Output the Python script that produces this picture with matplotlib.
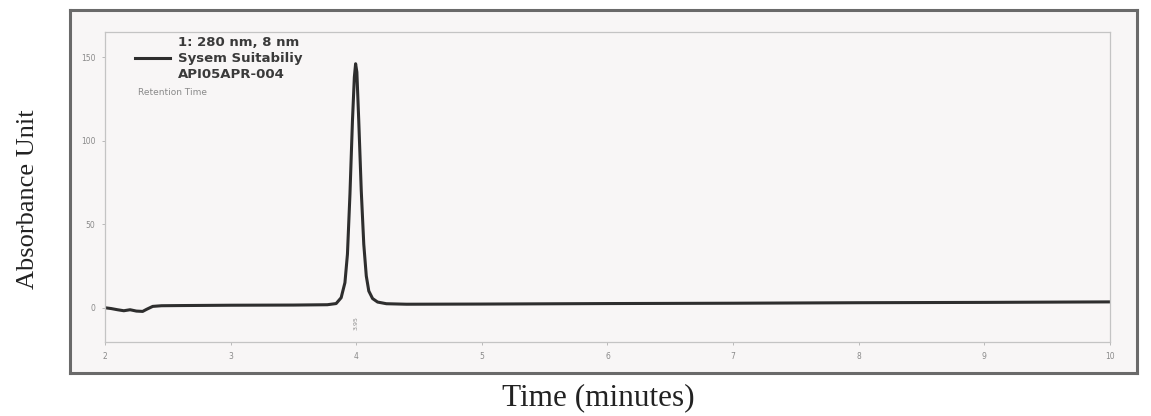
import matplotlib
matplotlib.use("Agg")
import matplotlib.pyplot as plt

# chromatogram (time in min, absorbance)
time = [2.00, 2.05, 2.10, 2.15, 2.20, 2.25, 2.30, 2.33, 2.38, 2.45, 2.60, 3.00, 3.50, 3.77,
        3.84, 3.88, 3.91, 3.93, 3.95, 3.97, 3.985, 3.995, 4.005, 4.02, 4.04, 4.06, 4.08,
        4.10, 4.13, 4.17, 4.24, 4.40, 5.00, 6.00, 7.00, 8.00, 9.00, 10.00]
absorb = [0.0, -0.5, -1.2, -1.8, -1.2, -2.0, -2.2, -1.0, 0.8, 1.2, 1.3, 1.5, 1.6, 1.8,
          2.5, 6.0, 15.0, 32.0, 68.0, 112.0, 138.0, 146.0, 141.0, 112.0, 70.0, 38.0, 19.0,
          10.0, 5.5, 3.4, 2.4, 2.1, 2.2, 2.5, 2.7, 3.0, 3.2, 3.5]

x_ticks = [2, 3, 4, 5, 6, 7, 8, 9, 10]
y_ticks = [0, 50, 100, 150]
peak_label = "3.95"

fig = plt.figure(figsize=(11.51, 4.16), dpi=100)
fig.patch.set_facecolor("white")

# scanned page frame, drawn as an empty axes behind the plot
frame = fig.add_axes([0.0608, 0.1034, 0.927, 0.8726], zorder=0)
frame.set_facecolor("#f8f6f6")
frame.set_xticks([])
frame.set_yticks([])
for s in frame.spines.values():
    s.set_color("#6a6a6a")
    s.set_linewidth(2.2)

ax = fig.add_axes([0.0912, 0.1779, 0.8732, 0.7452], zorder=1)
ax.set_facecolor("#f8f6f6")
ax.plot(time, absorb, color="#2e2e2e", linewidth=2.2)

ax.set_xlim(2, 10)
ax.set_ylim(-20.5, 165)
ax.set_xticks(x_ticks)
ax.set_yticks(y_ticks)
ax.tick_params(colors="#b0b0b0", labelcolor="#8a8a8a", labelsize=5.5, length=2, width=0.6, pad=5)
for s in ax.spines.values():
    s.set_color("#c4c4c4")
    s.set_linewidth(0.9)

# legend block inside the trace window
ax.plot([2.24, 2.52], [149.4, 149.4], color="#2e2e2e", linewidth=2.2)
ax.text(2.58, 159, "1: 280 nm, 8 nm", fontsize=9.5, fontweight="bold", color="#3a3a3a",
        family="DejaVu Sans", va="center")
ax.text(2.58, 149.4, "Sysem Suitabiliy", fontsize=9.5, fontweight="bold", color="#3a3a3a",
        family="DejaVu Sans", va="center")
ax.text(2.58, 139.3, "API05APR-004", fontsize=9.5, fontweight="bold", color="#3a3a3a",
        family="DejaVu Sans", va="center")
ax.text(2.26, 128.5, "Retention Time", fontsize=6.5, color="#8a8a8a",
        family="DejaVu Sans", va="center")
ax.text(3.995, -5, peak_label, fontsize=4.5, color="#8a8a8a", rotation=90,
        ha="center", va="top")

fig.text(0.024, 0.52, "Absorbance Unit", rotation=90, fontsize=19, family="Liberation Serif",
         color="#222222", ha="center", va="center")
fig.text(0.52, 0.043, "Time (minutes)", fontsize=22.5, family="Liberation Serif",
         color="#222222", ha="center", va="center")

fig.savefig("out.png", dpi=100)
